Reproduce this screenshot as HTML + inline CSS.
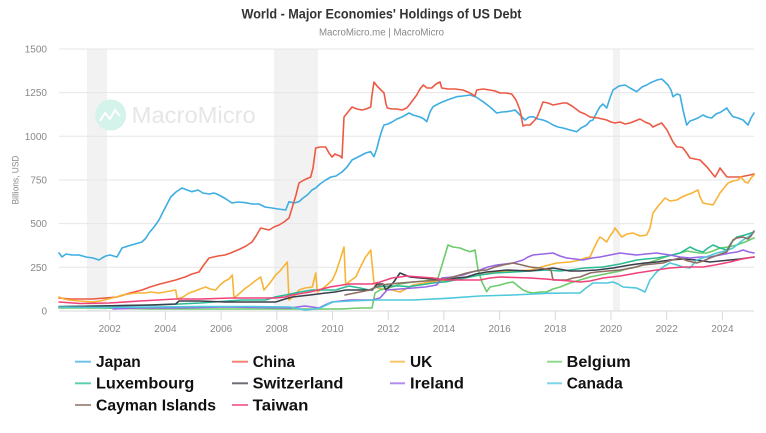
<!DOCTYPE html>
<html><head><meta charset="utf-8"><style>
html,body{margin:0;padding:0;background:#fff;}
svg{display:block;font-family:"Liberation Sans",sans-serif;}
</style></head><body>
<svg width="766" height="433" viewBox="0 0 766 433" xmlns="http://www.w3.org/2000/svg">
<rect width="766" height="433" fill="#fff"/>
<text x="381.5" y="18.5" text-anchor="middle" font-size="14" font-weight="bold" fill="#333" textLength="280" lengthAdjust="spacingAndGlyphs">World - Major Economies' Holdings of US Debt</text>
<text x="381.5" y="35.5" text-anchor="middle" font-size="10" fill="#888" textLength="125" lengthAdjust="spacingAndGlyphs">MacroMicro.me | MacroMicro</text>

<!-- recession bands -->
<rect x="87" y="49" width="20" height="262" fill="#f2f2f2"/>
<rect x="274" y="49" width="44" height="262" fill="#f2f2f2"/>
<rect x="613" y="49" width="7" height="262" fill="#f2f2f2"/>

<!-- grid -->
<g stroke="#e6e6e6" stroke-width="1">
<line x1="59" y1="49" x2="754" y2="49"/>
<line x1="59" y1="92.6" x2="754" y2="92.6"/>
<line x1="59" y1="136.3" x2="754" y2="136.3"/>
<line x1="59" y1="180" x2="754" y2="180"/>
<line x1="59" y1="223.6" x2="754" y2="223.6"/>
<line x1="59" y1="267.3" x2="754" y2="267.3"/>
</g>
<line x1="59" y1="311" x2="754" y2="311" stroke="#d8d8d8" stroke-width="1"/>
<g stroke="#d8d8d8" stroke-width="1">
<line x1="109.7" y1="311" x2="109.7" y2="320"/><line x1="165.4" y1="311" x2="165.4" y2="320"/>
<line x1="221.1" y1="311" x2="221.1" y2="320"/><line x1="276.8" y1="311" x2="276.8" y2="320"/>
<line x1="332.5" y1="311" x2="332.5" y2="320"/><line x1="388.2" y1="311" x2="388.2" y2="320"/>
<line x1="443.9" y1="311" x2="443.9" y2="320"/><line x1="499.6" y1="311" x2="499.6" y2="320"/>
<line x1="555.3" y1="311" x2="555.3" y2="320"/><line x1="611" y1="311" x2="611" y2="320"/>
<line x1="666.7" y1="311" x2="666.7" y2="320"/><line x1="722.4" y1="311" x2="722.4" y2="320"/>
</g>

<!-- watermark -->
<circle cx="110.7" cy="115" r="15.5" fill="#d3f3eb"/>
<polyline points="100,121 105,113 110,119 115,110 120,116" fill="none" stroke="#fff" stroke-width="2"/>
<text x="131.7" y="123" font-size="23" fill="#e6e6e6" textLength="124" lengthAdjust="spacingAndGlyphs">MacroMicro</text>

<!-- y labels -->
<g font-size="10" fill="#888" text-anchor="end">
<text x="47" y="52.5">1500</text>
<text x="47" y="96">1250</text>
<text x="47" y="140">1000</text>
<text x="47" y="183.5">750</text>
<text x="47" y="227">500</text>
<text x="47" y="270.8">250</text>
<text x="47" y="314.5">0</text>
</g>
<text transform="translate(18.5,180) rotate(-90)" text-anchor="middle" font-size="9.5" fill="#888" textLength="49" lengthAdjust="spacingAndGlyphs">Billions, USD</text>

<!-- x labels -->
<g font-size="10" fill="#888" text-anchor="middle">
<text x="109.7" y="332">2002</text><text x="165.4" y="332">2004</text>
<text x="221.1" y="332">2006</text><text x="276.8" y="332">2008</text>
<text x="332.5" y="332">2010</text><text x="388.2" y="332">2012</text>
<text x="443.9" y="332">2014</text><text x="499.6" y="332">2016</text>
<text x="555.3" y="332">2018</text><text x="611" y="332">2020</text>
<text x="666.7" y="332">2022</text><text x="722.4" y="332">2024</text>
</g>

<g fill="none" stroke-width="1.6" stroke-linejoin="round" stroke-linecap="round">
<!-- Japan -->
<polyline stroke="#3eade2" points="59,253 62,257 66,254 72,255 79,255 86,257 93,258 99,260 102,258 105.7,256 110,255 117,257 122,248 128,246 135,244 142,242 146,238 149,233 154,227 159,220 164,210 170.7,197 176,192 182,188 187,190 192,191.7 198,190 203,193 209,194 214,193 219,195 226,199 232,203 238,202 245.7,202.7 252,204 259,204 265,207 272,208 278,209 285.7,210 289,201.7 294,203 299,201.7 303,198 307.3,195 312,190 315.7,188 320,184 325.7,180 331,177 336,176 342,172 347,167 352,160 358,157 365.7,153 370.7,151.7 374,156.7 377,148 379,140 382,130 384,125 388,124 392,122 397,119 402,117 409,113 413,115 420,117 424,119 426.7,121.7 430,112 433,106.7 438,104 443,101.7 450,99 456.7,96.7 463,96 470,95 476,97 483,101.7 490,107 496.7,113 502,112 506.7,111.7 511,111 515,110 520,115 525,120 529,117 533,116.7 538,119 543,120 548,122 553,125 558,127 563,128 570,130 576.7,131.7 581,128 586.7,125 590,121 593,120 597,112 600,106.7 603,104 606.7,108 610,98 613,90 619,86 625,85 630,88 636.7,91.7 642,87 646.7,85 650,83 653,81.7 657,80 661.7,79 665,82 668,85 671,90 673,96.7 677,94 680,95 683,110 686.7,125 690,121 693,120 698,118 703,115 707,117 711.7,118 716,114 721,112 726.7,108 730,113 733,116.7 738,118 743,120 748,125 751,118 754,113"/>
<!-- China -->
<polyline stroke="#ec5a45" points="59,298 70,299 80,299 92,299 105,298 117,297 130,293 142,290 150,287 160,284 175.7,280 185,277 192,274 199,272 203,266 209,258 218,256 225,255 230.7,253 240,249 246,246 252,242 256,236 260.7,228 265,229 269,230 274,227 279,225 284,222 289,218 293,205 296,195 299,183 304,180 310.7,177 313,168 315.7,148 320,147 325.7,147 329,153 332,157 335,154 337,155 340,156 342,158 344,117 348,112 352,107 357,109 362,110 366,109 370.7,107 372,95 374,82 377,86 381,90 384,93 386,104 387.3,108 392,109 397,109 402,110 406.7,108 410,104 413,100 416.7,95 420,89 423.3,85 427,88 431.7,88 436,84 440,82 441.7,88 448,89 455,89 463,90 470,93 475,96 476.7,90 483,89 490,90 495,91 500,93 506,93 511.7,94 516,100 520,110 523,126 526,125 530,125 533,122 536.7,118 540,110 543,102 548,103 553,105 558,104 563,103 566.7,103 572,106 580,112 585,114 590,117 598,118 606.7,120 611,122 615,123 620,122 625,124 630,123 635,121 640,119 645,122 650,124 653,127 657,125 661.7,123 664,126 667,130 670,136 673,142 676.7,147 680,147 683,148 686,152 690,158 695,159 700,160 703,163 707,167 711,172 715,177 718,172 720,168 723,172 727,177 733,177 740,177 745,176 750,175 754,174"/>
<!-- UK -->
<polyline stroke="#f7b436" points="59,297 64,299 69,300 80,301 92,302 100,301 112,298 117,297 122,295 129,294 135.7,293 145,293 150,292 159,293 165,292 170,291 175.7,290 177.3,299 183,297 189,293 195,291 200,289 205.7,287 210,289 215.7,290 220,285 225,281 229,279 232.3,275 234,298 240,293 245.7,288 250,285 255,281 260.7,277 264,290 270,283 275.7,275 280,271 284,266 287.3,262 289,300 295,295 299,290 305,288 312.3,287 315.7,273 317.3,292 322,289 327,285 332.3,280 336,272 340,260 344,247 345.7,285 350,281 355.7,277 360,268 365,258 370.7,250 374,283 378,288 382,289 392,290 400,292 413,285 430,282 446.7,280 466,277 480,275 496.7,272 515,271 530,270 545,266 556.7,263 570,262 580,260 585,258 590,257 594,248 597,242 600,237 603,239 606.7,242 610,236 613,232 615,228 618,232 621.7,237 627,234 633,233 640,236 646.7,235 650,228 653,213 659,205 665,198 670,201 676.7,200 682,197 686.7,195 692,193 698,190 700,197 703,203 708,204 713,205 716,200 720,193 724,188 728,183 733,181 738,180 741,177 745,182 748,183 751,178 754,175"/>
<!-- Belgium -->
<polyline stroke="#6ccb6a" points="59,308 100,308 150,309 200,309 250,309 300,309 340,309 360,308 372,308 375,293 380,290 392,287 400,284 413,282 425,281 438,278 442,265 445,255 448,245 453,247 460,248 465,250 470,251.7 475,250 478,270 482,282 486.7,291.7 490,287 495,286 500,285 507,283 513,282 518,286 523,290 528,292 533,293 540,292 546.7,292 553,289 560,287 565,285 570,283 580,280 590,277 600,275 610,273 620,271 630,268 636.7,267 645,264 656.7,260 668,256 680,253 687,251 693,252 700,253 706.7,253 713,251 720,248 728,247 736.7,245 745,242 754,238"/>
<!-- Luxembourg -->
<polyline stroke="#2bbb95" points="59,306.7 100,306 159,305 200,303 242,300 265.7,300 275,297 285.7,295 300,292 312,290 320,290 335.7,290 342,288 349,286 360,288 369,290 374,288 379,286.7 390,286 400,286 409,286.7 420,285 433,283 446.7,281.7 460,279 470,277 480,275 495,273 513,272 530,271 546.7,270 560,271 570,270 585,268 603,267 620,264 636.7,260 646,259 656.7,258 668,256 680,253 685,250 690,247 696,250 703,252 708,248 713,245 720,248 726.7,250 731,243 736.7,237 745,235 754,232"/>
<!-- Switzerland -->
<polyline stroke="#3b3f4c" points="59,306.7 100,306 150,305 175.7,304 179,301 200,301 225.7,302 250,302 275.7,302 285,299 292.3,297 310,295 325.7,293 335,292 345.7,290 360,290 372.3,290 377,284 383,284 386,290 393,283 400,273 410,277 420,278 433,279 446.7,280 456,278 466.7,277 476,274 486.7,272 506.7,270 530,271 553,268 570,271 580,271 596.7,270 613,268 630,265 645,263 656.7,262 670,260 683,259 696,260 710,262 720,261 730,260 740,259 754,257"/>
<!-- Ireland -->
<polyline stroke="#9966e6" points="113,309 139,308 170,308 200,307.5 225.7,307 260,307.5 290,308 305,306 319,308 325,305 332,302 349,300 360,300 372,300 380,298 387,290 400,289 413,288 425,287 436.7,285 441.7,278 452,277 463,275 472,272 480,270 488,267 496.7,265 505,264 513,263 523,260 528,257 533,255 543,254 553,253 560,256 566.7,258 575,259 583,260 592,258 600,257 610,255 620,253 628,254 636.7,255 646,254 656.7,253 663,254 670,255 680,257 690,258 700,257 710,257 720,255 730,253 737,252 743,250 749,252 754,253"/>
<!-- Canada -->
<polyline stroke="#50c8dc" points="59,307 100,307.5 150,307 200,306.5 250,306.5 290,307 305,310 315,309 320,308 333,302 350,301 377,300 400,300 413,300 446.7,298.3 480,296 513,295 546.7,293.3 570,293 580,293 586,288 593,283 606.7,283 613,282 618,284 623,287 636.7,288 645,292 650,280 656.7,272 663,267 670,263 677,265 683,267 690,268 696.7,260 706,257 716.7,253 725,251 733,248 738,244 743,240 748,237 754,232"/>
<!-- Cayman -->
<polyline stroke="#8d6e63" points="345,295 360,292 370,290 380,285 390,284 400,283 413,282 426,281 440,280 453,277 466.7,273 476,271 486.7,270 495,267 503,265 513,263 522,265 530,267 540,268 551,270 553,280 560,280 566.7,280 573,278 580,277 590,273 596.7,272 608,271 620,270 632,268 643,265 653,264 663,263 672,260 680,258 688,261 696.7,263 703,261 710,258 718,255 726.7,252 730,246 733,240 736.7,238 743,237 748,239 751,236 754,231"/>
<!-- Taiwan -->
<polyline stroke="#f0427a" points="59,302 80,303.5 109,303 140,301 175.7,299 200,299 232,298 260,298 275.7,298 285,297 292,295 310,292 330,287 349,284 360,284 372,284 380,282 392,278 400,277 406.7,276 420,277 433,278 446.7,280 465,280 480,280 490,278 500,277 515,277.5 530,278 545,279 556.7,280 570,281 580,282 590,281 603,278 620,276 636.7,273 650,271 670,268 685,267 703,267 715,265 730,262 742,259 754,257"/>
</g>

<!-- legend -->
<g stroke-width="2" opacity="0.75">
<line x1="75" y1="361.7" x2="91" y2="361.7" stroke="#3eade2"/>
<line x1="232" y1="361.7" x2="248" y2="361.7" stroke="#ec5a45"/>
<line x1="390" y1="361.7" x2="405" y2="361.7" stroke="#f7b436"/>
<line x1="547" y1="361.7" x2="562" y2="361.7" stroke="#6ccb6a"/>
<line x1="75" y1="383.3" x2="91" y2="383.3" stroke="#2bbb95"/>
<line x1="232" y1="383.3" x2="248" y2="383.3" stroke="#3b3f4c"/>
<line x1="390" y1="383.3" x2="405" y2="383.3" stroke="#9966e6"/>
<line x1="547" y1="383.3" x2="562" y2="383.3" stroke="#50c8dc"/>
<line x1="75" y1="405" x2="91" y2="405" stroke="#8d6e63"/>
<line x1="232" y1="405" x2="248" y2="405" stroke="#f0427a"/>
</g>
<g font-size="16" font-weight="bold" fill="#111">
<text x="96" y="367" textLength="44.7" lengthAdjust="spacingAndGlyphs">Japan</text>
<text x="252.7" y="367" textLength="42.3" lengthAdjust="spacingAndGlyphs">China</text>
<text x="410" y="367" textLength="22.3" lengthAdjust="spacingAndGlyphs">UK</text>
<text x="566.7" y="367" textLength="64" lengthAdjust="spacingAndGlyphs">Belgium</text>
<text x="96" y="388.7" textLength="98.3" lengthAdjust="spacingAndGlyphs">Luxembourg</text>
<text x="252.7" y="388.7" textLength="90.7" lengthAdjust="spacingAndGlyphs">Switzerland</text>
<text x="410" y="388.7" textLength="54" lengthAdjust="spacingAndGlyphs">Ireland</text>
<text x="566.7" y="388.7" textLength="56" lengthAdjust="spacingAndGlyphs">Canada</text>
<text x="96" y="410.5" textLength="120" lengthAdjust="spacingAndGlyphs">Cayman Islands</text>
<text x="252.7" y="410.5" textLength="55.7" lengthAdjust="spacingAndGlyphs">Taiwan</text>
</g>
</svg>
</body></html>
